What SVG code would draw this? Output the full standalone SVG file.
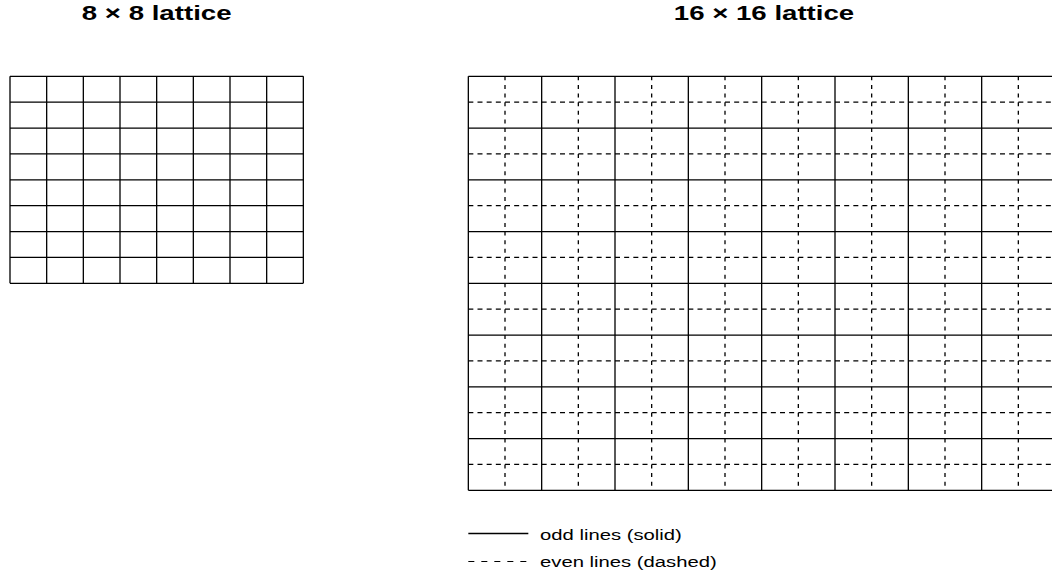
<svg xmlns="http://www.w3.org/2000/svg" width="1052" height="576" viewBox="0 0 1052 576">
<style>
.title{font-family:"Liberation Sans",Arial,sans-serif;font-weight:bold;font-size:19.5px;fill:#000;text-anchor:middle}
.lbl{font-family:"Liberation Sans",Arial,sans-serif;font-size:14.3px;fill:#000}
.solid{stroke:#000;stroke-width:1.3;fill:none}
.dh{stroke:#000;stroke-width:1.3;fill:none;stroke-dasharray:5 4.1667}
.dv{stroke:#000;stroke-width:1.3;fill:none;stroke-dasharray:4 4.625}
.dl{stroke:#000;stroke-width:1.2;fill:none;stroke-dasharray:6 7}
</style>
<rect width="1052" height="576" fill="#fff"/>
<g id="title-8x8"><text class="title" transform="translate(156.67,20) scale(1.417,1)">8 × 8 lattice</text></g>
<g id="title-16x16"><text class="title" transform="translate(764,20) scale(1.417,1)">16 × 16 lattice</text></g>
<g id="lattice-8x8">
<path class="solid" d="M10 76.33V283.33M46.67 76.33V283.33M83.33 76.33V283.33M120 76.33V283.33M156.67 76.33V283.33M193.33 76.33V283.33M230 76.33V283.33M266.67 76.33V283.33M303.33 76.33V283.33"/>
<path class="solid" d="M10 76.33H303.33M10 102.21H303.33M10 128.08H303.33M10 153.96H303.33M10 179.83H303.33M10 205.71H303.33M10 231.58H303.33M10 257.46H303.33M10 283.33H303.33"/>
</g>
<g id="lattice-16x16">
<g id="even-lines">
<path class="dv" d="M505 76.33V490.33M578.33 76.33V490.33M651.67 76.33V490.33M725 76.33V490.33M798.33 76.33V490.33M871.67 76.33V490.33M945 76.33V490.33M1018.33 76.33V490.33"/>
<path class="dh" d="M468.33 102.21H1055M468.33 153.96H1055M468.33 205.71H1055M468.33 257.46H1055M468.33 309.21H1055M468.33 360.96H1055M468.33 412.71H1055M468.33 464.46H1055"/>
</g>
<g id="odd-lines">
<path class="solid" d="M468.33 76.33V490.33M541.67 76.33V490.33M615 76.33V490.33M688.33 76.33V490.33M761.67 76.33V490.33M835 76.33V490.33M908.33 76.33V490.33M981.67 76.33V490.33M1055 76.33V490.33"/>
<path class="solid" d="M468.33 76.33H1055M468.33 128.08H1055M468.33 179.83H1055M468.33 231.58H1055M468.33 283.33H1055M468.33 335.08H1055M468.33 386.83H1055M468.33 438.58H1055M468.33 490.33H1055"/>
</g>
</g>
<g id="legend">
<line class="solid" x1="468.33" y1="533.5" x2="528.33" y2="533.5"/>
<text class="lbl" transform="translate(540,539.5) scale(1.417,1)">odd lines (solid)</text>
<line class="dl" x1="468.33" y1="561.5" x2="528.33" y2="561.5"/>
<text class="lbl" transform="translate(540,566.5) scale(1.417,1)">even lines (dashed)</text>
</g>
</svg>
